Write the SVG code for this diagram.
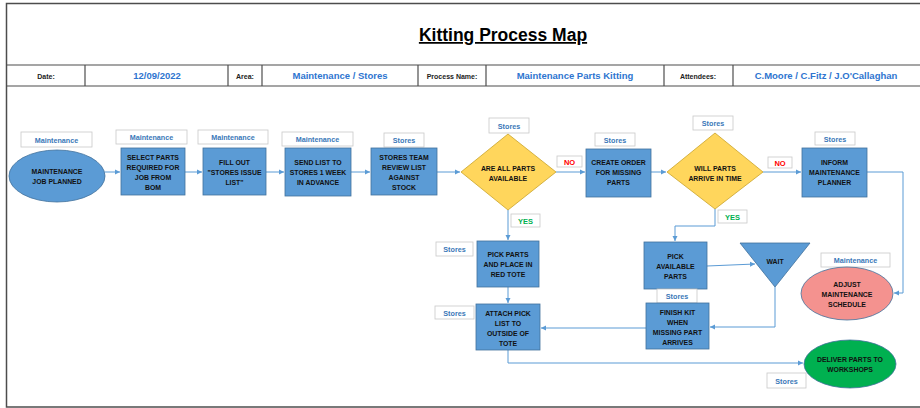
<svg xmlns="http://www.w3.org/2000/svg" width="920" height="408" viewBox="0 0 920 408">
<defs>
<marker id="ah" markerWidth="6" markerHeight="6" refX="5" refY="3" orient="auto" markerUnits="userSpaceOnUse">
<path d="M0,0.5 L5,3 L0,5.5 Z" fill="#5b9bd5"/>
</marker>
<style>
.frame{fill:none;stroke:#4d4d4d;stroke-width:1.5}
.hl{stroke:#4d4d4d;stroke-width:1.2}
.ht{font-family:"Liberation Sans",Arial,sans-serif;font-weight:bold;font-size:7px;fill:#222;text-anchor:middle}
.hv{font-family:"Liberation Sans",Arial,sans-serif;font-weight:bold;font-size:9.5px;fill:#2e75d0;text-anchor:middle}
.title{font-family:"Liberation Sans",Arial,sans-serif;font-weight:bold;font-size:17.5px;fill:#000;text-anchor:middle;text-decoration:underline}
.box{fill:#5b9bd5;stroke:#41719c;stroke-width:0.8}
.dia{fill:#ffd65c;stroke:#c9a32a;stroke-width:0.8}
.lbl{fill:#fff;stroke:#c8c8c8;stroke-width:0.8}
.lt{font-family:"Liberation Sans",Arial,sans-serif;font-weight:bold;font-size:7.2px;fill:#3a78b8;text-anchor:middle}
.nt{font-family:"Liberation Sans",Arial,sans-serif;font-weight:bold;font-size:6.9px;fill:#111;text-anchor:middle}
.no{font-family:"Liberation Sans",Arial,sans-serif;font-weight:bold;font-size:7.5px;fill:#ff0000;text-anchor:middle}
.yes{font-family:"Liberation Sans",Arial,sans-serif;font-weight:bold;font-size:7.5px;fill:#00b050;text-anchor:middle}
.con{fill:none;stroke:#5b9bd5;stroke-width:1;marker-end:url(#ah)}
</style>
</defs>
<rect width="920" height="408" fill="#fff"/>
<g id="header">
<path class="frame" d="M921,3.5 H6.5 V407 H921"/>
<line class="hl" x1="6" y1="65" x2="920" y2="65"/>
<line class="hl" x1="6" y1="86" x2="920" y2="86"/>
<line class="hl" x1="85" y1="65" x2="85" y2="86"/>
<line class="hl" x1="228" y1="65" x2="228" y2="86"/>
<line class="hl" x1="262" y1="65" x2="262" y2="86"/>
<line class="hl" x1="418" y1="65" x2="418" y2="86"/>
<line class="hl" x1="486" y1="65" x2="486" y2="86"/>
<line class="hl" x1="664" y1="65" x2="664" y2="86"/>
<line class="hl" x1="733" y1="65" x2="733" y2="86"/>
<text class="title" x="503" y="41">Kitting Process Map</text>
<text class="ht" x="46" y="78.5">Date:</text>
<text class="hv" x="157" y="79">12/09/2022</text>
<text class="ht" x="245" y="78.5">Area:</text>
<text class="hv" x="340" y="79">Maintenance / Stores</text>
<text class="ht" x="452" y="78.5">Process Name:</text>
<text class="hv" x="575" y="79">Maintenance Parts Kitting</text>
<text class="ht" x="698" y="78.5">Attendees:</text>
<text class="hv" x="826" y="79">C.Moore / C.Fitz / J.O'Callaghan</text>
</g>
<g id="connectors">
<line class="con" x1="105" y1="172" x2="120" y2="172"/>
<line class="con" x1="185" y1="172" x2="202" y2="172"/>
<line class="con" x1="266" y1="172" x2="284" y2="172"/>
<line class="con" x1="351" y1="172" x2="370" y2="172"/>
<line class="con" x1="437" y1="172" x2="460" y2="172"/>
<line class="con" x1="556" y1="172" x2="585" y2="172"/>
<line class="con" x1="651" y1="172" x2="666" y2="172"/>
<line class="con" x1="763" y1="172" x2="801" y2="172"/>
<polyline class="con" points="867,172 903,172 903,293 894,293"/>
<line class="con" x1="508" y1="210" x2="508" y2="240"/>
<polyline class="con" points="715,209 715,226 675,226 675,241"/>
<line class="con" x1="508" y1="287" x2="508" y2="303"/>
<line class="con" x1="707" y1="266" x2="755" y2="264"/>
<polyline class="con" points="775,287 775,327 710,327"/>
<line class="con" x1="646" y1="328" x2="541" y2="328"/>
<polyline class="con" points="508,350 508,363 803,363"/>
</g>
<g id="n1">
<rect class="lbl" x="21" y="132" width="71" height="15"/>
<text class="lt" x="56.5" y="142.5">Maintenance</text>
<ellipse class="box" cx="57" cy="176" rx="48" ry="26"/>
<text class="nt" x="57" y="173.5">MAINTENANCE</text>
<text class="nt" x="57" y="183.5">JOB PLANNED</text>
</g>
<g id="n2">
<rect class="lbl" x="116" y="130" width="71" height="14"/>
<text class="lt" x="151.5" y="140">Maintenance</text>
<rect class="box" x="121" y="148" width="64" height="47"/>
<text class="nt" x="153" y="159.5">SELECT PARTS</text>
<text class="nt" x="153" y="169.5">REQUIRED FOR</text>
<text class="nt" x="153" y="179.5">JOB FROM</text>
<text class="nt" x="153" y="189.5">BOM</text>
</g>
<g id="n3">
<rect class="lbl" x="198" y="130" width="70" height="14"/>
<text class="lt" x="233" y="140">Maintenance</text>
<rect class="box" x="203" y="148" width="63" height="47"/>
<text class="nt" x="234.5" y="164.5">FILL OUT</text>
<text class="nt" x="234.5" y="174.5">"STORES ISSUE</text>
<text class="nt" x="234.5" y="184.5">LIST"</text>
</g>
<g id="n4">
<rect class="lbl" x="282" y="132" width="71" height="14"/>
<text class="lt" x="317.5" y="142">Maintenance</text>
<rect class="box" x="285" y="148" width="66" height="48"/>
<text class="nt" x="318" y="164.5">SEND LIST TO</text>
<text class="nt" x="318" y="174.5">STORES 1 WEEK</text>
<text class="nt" x="318" y="184.5">IN ADVANCE</text>
</g>
<g id="n5">
<rect class="lbl" x="384" y="133" width="40" height="14"/>
<text class="lt" x="404" y="143">Stores</text>
<rect class="box" x="371" y="148" width="66" height="47"/>
<text class="nt" x="404" y="159.5">STORES TEAM</text>
<text class="nt" x="404" y="169.5">REVIEW LIST</text>
<text class="nt" x="404" y="179.5">AGAINST</text>
<text class="nt" x="404" y="189.5">STOCK</text>
</g>
<g id="d1">
<rect class="lbl" x="489" y="118" width="40" height="15"/>
<text class="lt" x="509" y="128.5">Stores</text>
<polygon class="dia" points="508,134 556,172 508,210 461,172"/>
<text class="nt" x="508" y="171">ARE ALL PARTS</text>
<text class="nt" x="508" y="181">AVAILABLE</text>
<rect class="lbl" x="557" y="156" width="25" height="11"/>
<text class="no" x="569.5" y="164.5">NO</text>
<rect class="lbl" x="511" y="214" width="29" height="13"/>
<text class="yes" x="525.5" y="223.5">YES</text>
</g>
<g id="n6">
<rect class="lbl" x="595" y="133" width="40" height="13"/>
<text class="lt" x="615" y="142.5">Stores</text>
<rect class="box" x="586" y="149" width="65" height="48"/>
<text class="nt" x="618.5" y="164.5">CREATE ORDER</text>
<text class="nt" x="618.5" y="174.5">FOR MISSING</text>
<text class="nt" x="618.5" y="184.5">PARTS</text>
</g>
<g id="d2">
<rect class="lbl" x="693" y="116" width="40" height="14"/>
<text class="lt" x="713" y="126">Stores</text>
<polygon class="dia" points="715,133 763,172 715,209 667,172"/>
<text class="nt" x="715" y="171">WILL PARTS</text>
<text class="nt" x="715" y="181">ARRIVE IN TIME</text>
<rect class="lbl" x="768" y="157" width="24" height="11"/>
<text class="no" x="780" y="165.5">NO</text>
<rect class="lbl" x="718" y="210" width="29" height="13"/>
<text class="yes" x="732.5" y="219.5">YES</text>
</g>
<g id="n7">
<rect class="lbl" x="815" y="132" width="40" height="13"/>
<text class="lt" x="835" y="141.5">Stores</text>
<rect class="box" x="802" y="148" width="65" height="49"/>
<text class="nt" x="834.5" y="164.5">INFORM</text>
<text class="nt" x="834.5" y="174.5">MAINTENANCE</text>
<text class="nt" x="834.5" y="184.5">PLANNER</text>
</g>
<g id="n8">
<rect class="lbl" x="436" y="242" width="37" height="14"/>
<text class="lt" x="454.5" y="252">Stores</text>
<rect class="box" x="477" y="241" width="62" height="46"/>
<text class="nt" x="508" y="256.5">PICK PARTS</text>
<text class="nt" x="508" y="266.5">AND PLACE IN</text>
<text class="nt" x="508" y="276.5">RED TOTE</text>
</g>
<g id="n9">
<rect class="lbl" x="435" y="306" width="39" height="13"/>
<text class="lt" x="454.5" y="315.5">Stores</text>
<rect class="box" x="476" y="304" width="64" height="46"/>
<text class="nt" x="508" y="315.5">ATTACH PICK</text>
<text class="nt" x="508" y="325.5">LIST TO</text>
<text class="nt" x="508" y="335.5">OUTSIDE OF</text>
<text class="nt" x="508" y="345.5">TOTE</text>
</g>
<g id="n10">
<rect class="box" x="644" y="242" width="63" height="47"/>
<text class="nt" x="675.5" y="258.5">PICK</text>
<text class="nt" x="675.5" y="268.5">AVAILABLE</text>
<text class="nt" x="675.5" y="278.5">PARTS</text>
</g>
<g id="n11">
<rect class="lbl" x="657" y="289" width="40" height="14"/>
<text class="lt" x="677" y="299">Stores</text>
<rect class="box" x="646" y="303" width="63" height="46"/>
<text class="nt" x="677.5" y="314.5">FINISH KIT</text>
<text class="nt" x="677.5" y="324.5">WHEN</text>
<text class="nt" x="677.5" y="334.5">MISSING PART</text>
<text class="nt" x="677.5" y="344.5">ARRIVES</text>
</g>
<g id="n12">
<polygon class="box" points="740,243 810,243 775,287"/>
<text class="nt" x="775" y="263.5">WAIT</text>
</g>
<g id="n13">
<rect class="lbl" x="821" y="253" width="69" height="14"/>
<text class="lt" x="855.5" y="263">Maintenance</text>
<ellipse cx="847" cy="293.5" rx="46" ry="26.5" fill="#f4928f" stroke="#41719c" stroke-width="0.8"/>
<text class="nt" x="847" y="286.5">ADJUST</text>
<text class="nt" x="847" y="296.5">MAINTENANCE</text>
<text class="nt" x="847" y="306.5">SCHEDULE</text>
</g>
<g id="n14">
<ellipse cx="850" cy="364" rx="46" ry="24" fill="#00b050" stroke="#41719c" stroke-width="0.8"/>
<text class="nt" x="850" y="361.5">DELIVER PARTS TO</text>
<text class="nt" x="850" y="371.5">WORKSHOPS</text>
<rect class="lbl" x="767" y="373" width="39" height="15"/>
<text class="lt" x="786.5" y="383.5">Stores</text>
</g>
</svg>
